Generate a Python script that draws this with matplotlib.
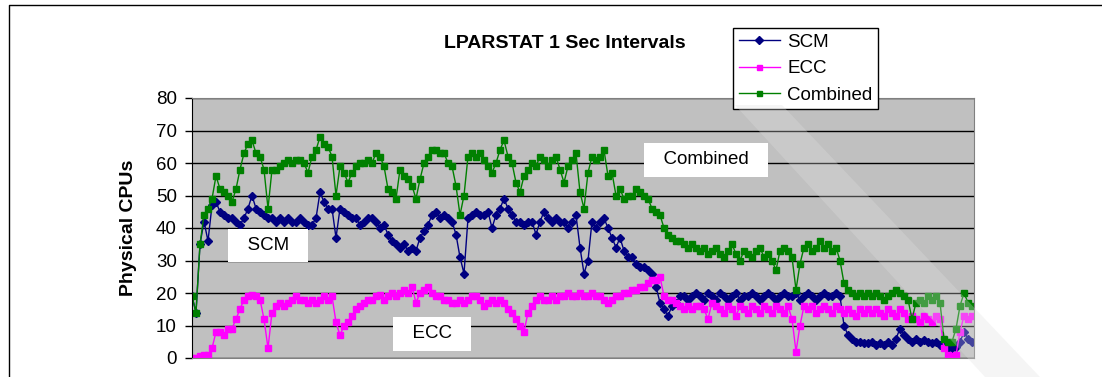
import matplotlib
matplotlib.use("Agg")
import matplotlib.pyplot as plt
from matplotlib.lines import Line2D
from matplotlib.patches import Polygon

# samples, one every ~4 px
scm = [19, 14, 35, 42, 36, 47, 48, 45, 44, 43,
       43, 42, 41, 43, 46, 50, 46, 45, 44, 43,
       43, 42, 43, 42, 43, 42, 42, 43, 42, 41,
       41, 43, 51, 48, 46, 46, 37, 46, 45, 44,
       43, 43, 41, 42, 43, 43, 42, 40, 41, 38,
       36, 35, 34, 35, 33, 34, 33, 37, 39, 41,
       44, 45, 43, 44, 43, 42, 38, 31, 26, 43,
       44, 45, 44, 44, 45, 40, 44, 46, 49, 46,
       44, 42, 42, 41, 42, 42, 38, 42, 45, 43,
       42, 43, 42, 42, 40, 42, 44, 34, 26, 30,
       42, 40, 42, 43, 40, 37, 34, 37, 33, 31,
       31, 29, 28, 28, 27, 26, 22, 17, 15, 13,
       16, 17, 19, 19, 18, 19, 20, 19, 18, 20,
       19, 18, 20, 19, 18, 19, 20, 18, 19, 19,
       20, 19, 18, 19, 20, 19, 18, 19, 20, 19,
       19, 20, 18, 19, 20, 19, 18, 19, 20, 19,
       19, 20, 19, 10, 7, 6, 5, 5, 4.5, 4.5,
       5, 4, 4.5, 4, 5, 4, 6, 9, 7, 6,
       5, 6, 5, 5.5, 5, 4.5, 5, 4, 4.5, 3,
       3, 3.5, 5, 8, 6, 5]

ecc = [0, 0, 0.5, 1, 1, 3, 8, 8, 7, 9,
       9, 12, 15, 18, 19, 19.5, 19, 18, 12, 3,
       14, 16, 17, 16, 17, 18, 19, 18, 18, 17,
       18, 17, 18, 19, 18, 19, 11, 7, 10, 11,
       13, 15, 16, 17, 18, 18, 19, 19.5, 18, 19,
       20, 19, 20, 21, 20, 22, 17, 20, 21, 22,
       20, 19, 19, 18, 18, 17, 17, 18, 17, 18,
       19, 19, 18, 16, 17, 18, 17, 18, 17, 15,
       14, 12, 10, 8, 14, 16, 18, 19, 18, 18,
       19, 18, 19, 19, 20, 19, 19, 20, 19, 19,
       20, 19, 19, 18, 17, 18, 19, 19, 20, 20,
       21, 21, 22, 22, 23, 24, 24, 25, 19, 18,
       18, 17, 16, 15, 16, 15, 16, 16, 15, 12,
       17, 16, 15, 14, 16, 15, 13, 16, 15, 14,
       16, 15, 14, 16, 15, 14, 16, 15, 14, 16,
       12, 2, 10, 16, 15, 16, 14, 15, 16, 15,
       14, 16, 15, 14, 15, 14, 13, 15, 14, 15,
       14, 15, 14, 13, 15, 14, 13, 15, 14, 12,
       13, 12, 11, 13, 12, 11, 13, 12, 3, 1,
       0.5, 1, 8, 13, 12, 13]

combined = [19, 14, 35, 44, 46, 49, 56, 52, 51, 50,
            48, 52, 58, 63, 66, 67, 63, 62, 58, 46,
            58, 58, 59, 60, 61, 60, 61, 61, 60, 57,
            62, 64, 68, 66, 65, 62, 50, 59, 57, 54,
            57, 59, 60, 60, 61, 60, 63, 62, 59, 52,
            51, 49, 58, 56, 55, 53, 49, 55, 60, 62,
            64, 64, 63, 63, 60, 59, 53, 44, 50, 62,
            63, 62, 63, 61, 59, 57, 60, 64, 67, 62,
            60, 54, 51, 56, 58, 60, 59, 62, 61, 59,
            61, 62, 58, 54, 59, 61, 63, 51, 46, 57,
            62, 61, 62, 64, 56, 57, 50, 52, 49, 50,
            50, 52, 51, 50, 49, 46, 45, 44, 40, 38,
            37, 36, 36, 35, 34, 35, 34, 33, 34, 32,
            33, 34, 32, 31, 33, 35, 32, 30, 33, 32,
            31, 33, 34, 31, 32, 30, 27, 33, 34, 33,
            31, 21, 29, 34, 35, 33, 34, 36, 34, 35,
            33, 34, 30, 23, 21, 20, 19, 20, 19, 20,
            19, 20, 19, 18, 19, 20, 21, 20, 19, 18,
            12, 17, 18, 17, 19, 18, 19, 17, 6, 5,
            5, 9, 16, 20, 17, 16]

series_names = ["SCM", "ECC", "Combined"]
x = list(range(len(scm)))

W, H = 1102, 377
fig = plt.figure(figsize=(W / 100, H / 100), dpi=100)
plt.rcParams['font.family'] = ['Liberation Sans', 'DejaVu Sans']

ax = fig.add_axes([192 / W, 1 - 358 / H, 782 / W, 260 / H])
ax.set_facecolor("#C0C0C0")

ax.plot(x, scm, color="#000080", marker="D", markersize=4.5, lw=1, label=series_names[0])
ax.plot(x, ecc, color="#FF00FF", marker="s", markersize=4.5, lw=1, label=series_names[1])
ax.plot(x, combined, color="#008000", marker="s", markersize=4.5, lw=1, label=series_names[2])

ax.set_xlim(0, len(scm) - 0.5)
ax.set_ylim(0, 80)
ax.set_yticks(range(0, 81, 10))
ax.set_xticks([])
ax.yaxis.grid(True, color="black", lw=1)
ax.set_axisbelow(True)
ax.tick_params(axis="y", labelsize=13.5, length=5, width=1, pad=6)
for side in ["top", "right", "bottom"]:
    ax.spines[side].set_color("#808080")
ax.spines["left"].set_color("black")

ax.set_ylabel("Physical CPUs", fontsize=14, fontweight="bold")
ax.yaxis.set_label_coords(-0.07, 0.5)

box = dict(facecolor="white", edgecolor="none", boxstyle="square,pad=0.45")
ax.text(128.5, 61, "  Combined  ", fontsize=13.5, ha="center", va="center", bbox=box)
ax.text(19, 34.6, "  SCM  ", fontsize=13.5, ha="center", va="center", bbox=box)
ax.text(60, 7.5, "  ECC  ", fontsize=13.5, ha="center", va="center", bbox=box)

fig.text(565 / W, 1 - 43 / H, "LPARSTAT 1 Sec Intervals", fontsize=14,
         fontweight="bold", ha="center", va="center")

leg = ax.legend(loc="upper left", bbox_to_anchor=(733 / W, 1 - 28 / H),
                bbox_transform=fig.transFigure, fontsize=13.5, frameon=True,
                fancybox=False, edgecolor="black", framealpha=1,
                handlelength=2.2, handletextpad=0.4, borderpad=0.3,
                labelspacing=0.5, borderaxespad=0, markerscale=0.8)
leg.get_frame().set_linewidth(1)
leg.set_zorder(10)

# outer chart border (top and left visible)
fig.add_artist(Line2D([9 / W, 9 / W, 1.0], [0, 1 - 4.5 / H, 1 - 4.5 / H],
                      color="black", lw=1, transform=fig.transFigure))

# faint diagonal watermark stripe
pts = [(735, 105), (782, 105), (1040, 377), (985, 377)]
fig.add_artist(Polygon([(px / W, 1 - py / H) for px, py in pts], closed=True,
                       facecolor="#E0E0E0", edgecolor="none", alpha=0.3,
                       transform=fig.transFigure, zorder=20))

fig.savefig("out.png", dpi=100)
